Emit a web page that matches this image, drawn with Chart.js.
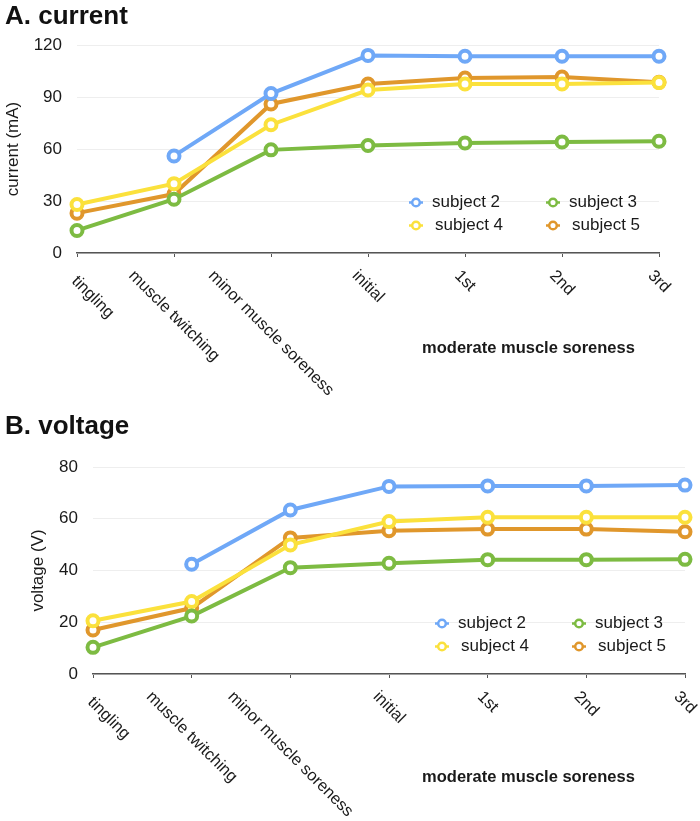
<!DOCTYPE html>
<html><head><meta charset="utf-8">
<script src="https://cdn.jsdelivr.net/npm/chart.js@4.4.1/dist/chart.umd.min.js"></script>
<style>
body{margin:0;background:#fff;width:700px;height:821px;position:relative;overflow:hidden;font-family:"Liberation Sans",Arial,Helvetica,sans-serif;}
.title{position:absolute;left:5px;font-weight:bold;font-size:26px;line-height:30px;color:#111;white-space:nowrap;}
.wrap{position:absolute;left:0;width:700px;}
canvas{display:block;}
</style></head><body>
<div class="wrap" style="top:0;height:410px"><canvas id="cA" width="700" height="410"></canvas></div>
<div class="wrap" style="top:410px;height:411px"><canvas id="cB" width="700" height="411"></canvas></div>
<div class="title" style="top:0">A. current</div>
<div class="title" style="top:410px">B. voltage</div>
<script>
// ---- data ----
const categories = ['tingling', 'muscle twitching', 'minor muscle soreness', 'initial', '1st', '2nd', '3rd'];
const groupLabel = 'moderate muscle soreness';
const seriesNames = ['subject 2', 'subject 3', 'subject 4', 'subject 5'];

const currentTicks = [0, 30, 60, 90, 120];
const currentS2 = [null, 56, 92, 114, 113.5, 113.5, 113.5];
const currentS3 = [13, 31, 59.5, 62, 63.5, 64, 64.5];
const currentS4 = [28, 40, 74, 94, 97.5, 97.5, 98.3];
const currentS5 = [23, 34, 86, 97.5, 101, 101.5, 98.5];

const voltageTicks = [0, 20, 40, 60, 80];
const voltageS2 = [null, 42.4, 63.4, 72.5, 72.7, 72.7, 73];
const voltageS3 = [10.3, 22.4, 41.1, 42.8, 44.2, 44.2, 44.3];
const voltageS4 = [20.6, 28, 49.9, 58.9, 60.6, 60.6, 60.6];
const voltageS5 = [17, 25.5, 52.6, 55.4, 56, 56, 55];

// ---- styles ----
const colors = ['#6fa8f7', '#7dbb42', '#fbe13c', '#e0972c'];
const FONT = '"Liberation Sans", Arial, Helvetica, sans-serif';
const TXT = '#1a1a1a';
Chart.defaults.font.family = FONT;
Chart.defaults.color = TXT;

function makeDatasets(arrs) {
  return arrs.map((d, i) => ({
    label: seriesNames[i],
    data: d,
    borderColor: colors[i],
    backgroundColor: colors[i],
    borderWidth: 4,
    pointRadius: 5.5,
    pointBorderWidth: 4,
    pointBackgroundColor: '#ffffff',
    pointBorderColor: colors[i],
    tension: 0,
    clip: false,
    spanGaps: false
  }));
}

const customAxisPlugin = {
  id: 'customAxis',
  afterDraw(chart, args, opts) {
    const ctx = chart.ctx, xs = chart.scales.x, area = chart.chartArea;
    ctx.save();
    ctx.fillStyle = TXT;
    // rotated category labels
    ctx.font = '16.5px ' + FONT;
    const gh = 12, s = Math.SQRT1_2;
    chart.data.labels.forEach((lab, i) => {
      const w = ctx.measureText(lab).width;
      const half = (w + gh) * s / 2;
      let cx = xs.getPixelForValue(i);
      let cy = area.bottom + opts.labelGap + half;
      const minLeft = area.left - 7;
      if (cx - half < minLeft) { const d = minLeft - (cx - half); cx += d; cy += d * 0.35; }
      ctx.save();
      ctx.translate(cx, cy);
      ctx.rotate(Math.PI / 4);
      ctx.textAlign = 'center';
      ctx.textBaseline = 'middle';
      ctx.fillText(lab, 0, 0);
      ctx.restore();
    });
    // group label
    ctx.font = 'bold 16.5px ' + FONT;
    ctx.textAlign = 'center';
    ctx.textBaseline = 'middle';
    ctx.fillText(opts.groupText, opts.groupX, area.bottom + opts.groupDy);
    // legend (inside chart area, 2 columns)
    chart.data.datasets.forEach((ds, i) => {
      const col = i % 2, row = Math.floor(i / 2);
      const mx = area.right + opts.legendX[col];
      const my = area.bottom + opts.legendY[row];
      ctx.strokeStyle = ds.borderColor;
      ctx.lineWidth = 2.5;
      ctx.beginPath(); ctx.moveTo(mx - 7, my); ctx.lineTo(mx + 7, my); ctx.stroke();
      ctx.beginPath(); ctx.arc(mx, my, 3.8, 0, Math.PI * 2);
      ctx.fillStyle = '#ffffff'; ctx.fill(); ctx.stroke();
      ctx.fillStyle = TXT;
      ctx.font = '17px ' + FONT;
      ctx.textAlign = 'left';
      ctx.textBaseline = 'middle';
      ctx.fillText(ds.label, mx + opts.legendTextDx[row], my);
    });
    ctx.restore();
  }
};

function makeChart(id, cfg) {
  return new Chart(document.getElementById(id), {
    type: 'line',
    data: { labels: categories, datasets: makeDatasets(cfg.series) },
    plugins: [customAxisPlugin],
    options: {
      responsive: false,
      animation: false,
      devicePixelRatio: 1,
      layout: { padding: cfg.padding },
      plugins: {
        legend: { display: false },
        tooltip: { enabled: false },
        title: { display: false },
        customAxis: {
          labelGap: 16,
          groupText: groupLabel,
          groupX: 528.5,
          groupDy: cfg.groupDy,
          legendX: [-243, -106],
          legendY: [-50.5, -27.5],
          legendTextDx: [16, 19]
        }
      },
      scales: {
        x: {
          type: 'category',
          offset: false,
          ticks: { display: false },
          grid: { display: true, drawOnChartArea: false, drawTicks: true, tickLength: 4, color: '#555', lineWidth: 1 },
          border: { display: true, color: '#555', width: 1.5 },
          afterFit(scale) { scale.height = cfg.xHeight; }
        },
        y: {
          min: cfg.ticks[0],
          max: cfg.ticks[cfg.ticks.length - 1],
          afterBuildTicks(scale) { scale.ticks = cfg.ticks.map(v => ({ value: v })); },
          ticks: { padding: 15, font: { size: 17 }, color: TXT },
          grid: { color: '#eeeeee', lineWidth: 1, drawTicks: false },
          border: { display: false },
          title: { display: true, text: cfg.yTitle, font: { size: 17 }, color: TXT, padding: { top: cfg.titlePad, bottom: 0 } },
          afterFit(scale) { scale.width = cfg.yWidth; }
        }
      }
    }
  });
}

makeChart('cA', {
  series: [currentS2, currentS3, currentS4, currentS5],
  ticks: currentTicks,
  yTitle: 'current (mA)',
  padding: { left: 0, right: 41, top: 45, bottom: 0 },
  yWidth: 77, xHeight: 157, titlePad: 3, groupDy: 95
});
makeChart('cB', {
  series: [voltageS2, voltageS3, voltageS4, voltageS5],
  ticks: voltageTicks,
  yTitle: 'voltage (V)',
  padding: { left: 0, right: 15, top: 57, bottom: 0 },
  yWidth: 93, xHeight: 147, titlePad: 28, groupDy: 103
});
</script>
</body></html>
